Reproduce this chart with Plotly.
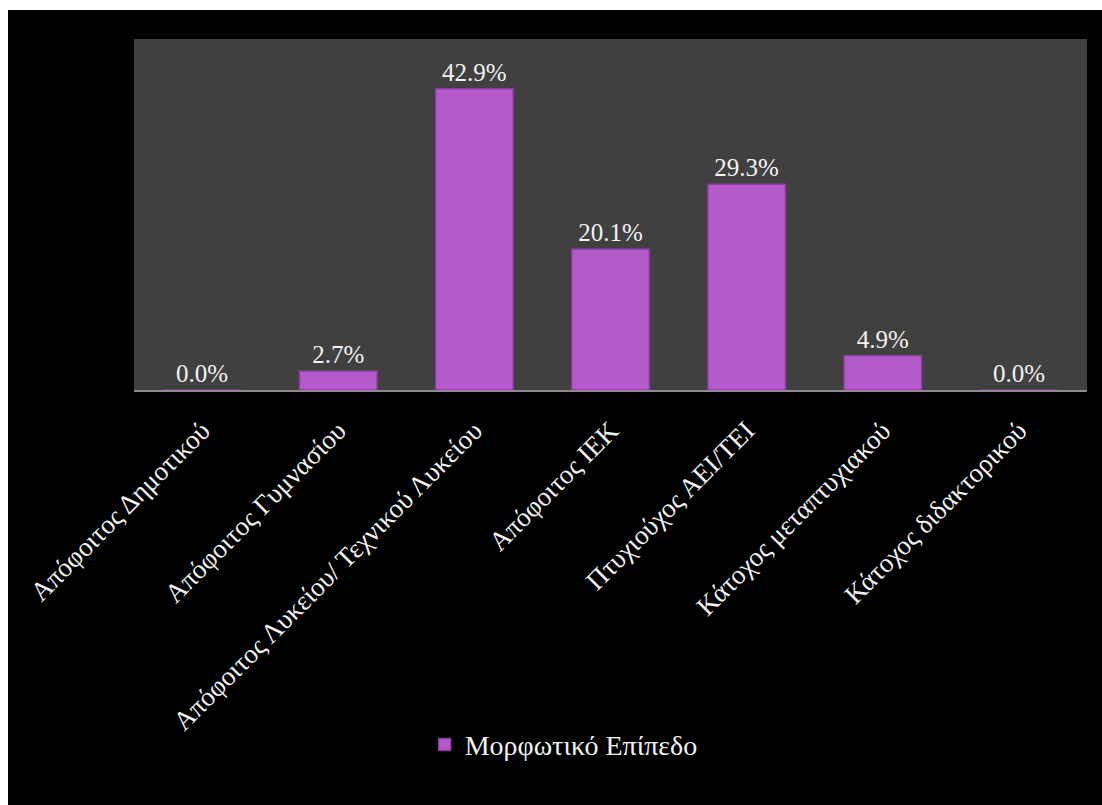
import plotly.graph_objects as go

# Education level distribution (percent of respondents)
categories = [
    "Απόφοιτος Δημοτικού",
    "Απόφοιτος Γυμνασίου",
    "Απόφοιτος Λυκείου/ Τεχνικού Λυκείου",
    "Απόφοιτος ΙΕΚ",
    "Πτυχιούχος ΑΕΙ/ΤΕΙ",
    "Κάτοχος μεταπτυχιακού",
    "Κάτοχος διδακτορικού",
]
values = [0.0, 2.7, 42.9, 20.1, 29.3, 4.9, 0.0]
series_name = "Μορφωτικό Επίπεδο"

FONT = "Liberation Serif, Times New Roman, serif"
TEXT = "#F2F2F2"

fig = go.Figure(
    go.Bar(
        x=categories,
        y=values,
        name=series_name,
        marker=dict(color="#B55ACA", line=dict(color="#8A3CA0", width=1.5)),
        texttemplate="%{y:.1f}%",
        textposition="outside",
        textfont=dict(family=FONT, size=25, color=TEXT),
        cliponaxis=False,
        showlegend=True,
    )
)

fig.update_layout(
    width=1102,
    height=805,
    margin=dict(l=134, r=15, t=39, b=415),
    paper_bgcolor="black",
    plot_bgcolor="#404040",
    bargap=0.43,
    font=dict(family=FONT, color=TEXT),
    legend=dict(
        orientation="h",
        x=0.305,
        xanchor="left",
        y=-1.011,
        yanchor="middle",
        font=dict(family=FONT, size=28, color=TEXT),
        bgcolor="rgba(0,0,0,0)",
        itemwidth=30,
    ),
    xaxis=dict(
        tickangle=-45,
        tickfont=dict(family=FONT, size=27, color=TEXT),
        showline=True,
        linecolor="#8C8C8C",
        linewidth=2,
        ticks="",
        ticklabelstandoff=12,
        showgrid=False,
    ),
    yaxis=dict(range=[0, 50], visible=False, showgrid=False, zeroline=False),
    shapes=[
        # thin white frame along the top and left edges
        dict(type="rect", xref="paper", yref="paper", layer="above",
             x0=-0.2, x1=1.1, y0=(390 - 10) / 351, y1=1.3,
             fillcolor="white", line=dict(width=0)),
        dict(type="rect", xref="paper", yref="paper", layer="above",
             x0=-0.2, x1=(8 - 134) / 953, y0=-1.3, y1=1.3,
             fillcolor="white", line=dict(width=0)),
    ],
)

fig.write_html("out.html")
